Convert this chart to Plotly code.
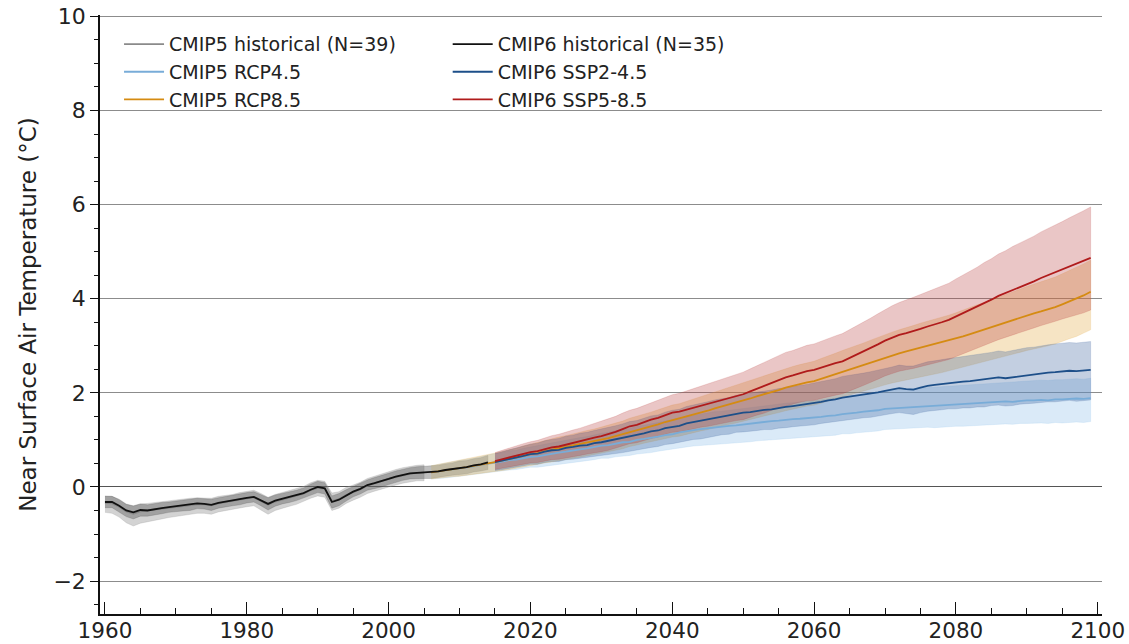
import plotly.graph_objects as go

# ---------------- data ----------------
hist6_years = list(range(1960, 2015))
hist6_mean = [-0.32, -0.32, -0.40, -0.50, -0.54, -0.49, -0.50, -0.47, -0.45, -0.43,
              -0.41, -0.40, -0.38, -0.35, -0.36, -0.38, -0.34, -0.31, -0.29, -0.26,
              -0.23, -0.21, -0.28, -0.36, -0.29, -0.25, -0.22, -0.18, -0.13, -0.06,
              0.00, -0.03, -0.32, -0.27, -0.18, -0.10, -0.04, 0.04, 0.08, 0.12,
              0.17, 0.22, 0.26, 0.29, 0.30, 0.31, 0.31, 0.33, 0.36, 0.38,
              0.41, 0.42, 0.46, 0.48, 0.52]
hist6_spread = [0.12, 0.12, 0.13, 0.13, 0.14, 0.13, 0.12, 0.12, 0.12, 0.11,
                0.11, 0.11, 0.12, 0.11, 0.11, 0.12, 0.11, 0.11, 0.11, 0.12,
                0.11, 0.11, 0.12, 0.13, 0.12, 0.11, 0.11, 0.11, 0.11, 0.12,
                0.12, 0.12, 0.13, 0.13, 0.12, 0.11, 0.11, 0.11, 0.12, 0.12,
                0.12, 0.12, 0.12, 0.12, 0.13, 0.13, 0.13, 0.13, 0.13, 0.13,
                0.14, 0.14, 0.14, 0.14, 0.15]

hist5_years = list(range(1960, 2006))
hist5_mean = [-0.34, -0.35, -0.42, -0.52, -0.57, -0.52, -0.50, -0.48, -0.46, -0.44,
              -0.42, -0.41, -0.39, -0.37, -0.37, -0.39, -0.35, -0.32, -0.30, -0.27,
              -0.24, -0.22, -0.30, -0.38, -0.31, -0.27, -0.23, -0.19, -0.14, -0.07,
              -0.02, -0.04, -0.30, -0.26, -0.17, -0.11, -0.05, 0.03, 0.08, 0.12,
              0.17, 0.21, 0.25, 0.28, 0.30, 0.30]
hist5_up = [0.15, 0.15, 0.16, 0.16, 0.16, 0.16, 0.15, 0.15, 0.15, 0.15,
            0.15, 0.15, 0.15, 0.14, 0.14, 0.15, 0.15, 0.14, 0.14, 0.15,
            0.15, 0.15, 0.16, 0.16, 0.15, 0.15, 0.15, 0.15, 0.15, 0.16,
            0.16, 0.16, 0.17, 0.16, 0.16, 0.15, 0.15, 0.15, 0.15, 0.16,
            0.16, 0.16, 0.16, 0.16, 0.16, 0.17]
hist5_dn = [0.20, 0.21, 0.22, 0.24, 0.26, 0.25, 0.24, 0.23, 0.22, 0.21,
            0.20, 0.20, 0.19, 0.19, 0.19, 0.19, 0.18, 0.18, 0.18, 0.18,
            0.18, 0.18, 0.19, 0.20, 0.19, 0.18, 0.18, 0.18, 0.17, 0.17,
            0.17, 0.18, 0.20, 0.19, 0.18, 0.17, 0.17, 0.17, 0.17, 0.17,
            0.17, 0.17, 0.17, 0.17, 0.17, 0.17]

rcp_years = list(range(2006, 2100))
rcp45_mean = [0.31, 0.33, 0.35, 0.37, 0.40, 0.42, 0.44, 0.47, 0.50, 0.52,
              0.54, 0.57, 0.58, 0.61, 0.64, 0.65, 0.68, 0.71, 0.73, 0.75,
              0.78, 0.80, 0.82, 0.85, 0.88, 0.89, 0.92, 0.95, 0.96, 1.00,
              1.02, 1.04, 1.07, 1.10, 1.12, 1.16, 1.19, 1.21, 1.23, 1.25,
              1.27, 1.28, 1.30, 1.31, 1.33, 1.34, 1.36, 1.38, 1.40, 1.41,
              1.43, 1.44, 1.45, 1.46, 1.47, 1.49, 1.51, 1.52, 1.55, 1.56,
              1.58, 1.60, 1.61, 1.63, 1.66, 1.67, 1.68, 1.69, 1.70, 1.71,
              1.72, 1.72, 1.73, 1.74, 1.75, 1.76, 1.77, 1.78, 1.79, 1.80,
              1.81, 1.82, 1.81, 1.83, 1.84, 1.84, 1.85, 1.84, 1.86, 1.86,
              1.87, 1.88, 1.87, 1.89]
rcp45_up = [0.14, 0.15, 0.15, 0.16, 0.16, 0.17, 0.17, 0.18, 0.18, 0.19,
            0.19, 0.20, 0.20, 0.21, 0.21, 0.22, 0.22, 0.23, 0.23, 0.24,
            0.24, 0.25, 0.25, 0.26, 0.26, 0.27, 0.27, 0.28, 0.28, 0.29,
            0.29, 0.30, 0.30, 0.30, 0.31, 0.31, 0.31, 0.32, 0.32, 0.32,
            0.33, 0.33, 0.33, 0.33, 0.34, 0.34, 0.34, 0.34, 0.35, 0.35,
            0.35, 0.35, 0.36, 0.36, 0.36, 0.36, 0.37, 0.37, 0.37, 0.37,
            0.38, 0.38, 0.38, 0.38, 0.38, 0.39, 0.39, 0.39, 0.39, 0.39,
            0.40, 0.40, 0.40, 0.40, 0.40, 0.40, 0.41, 0.41, 0.41, 0.41,
            0.41, 0.41, 0.42, 0.42, 0.42, 0.42, 0.42, 0.42, 0.42, 0.42,
            0.42, 0.42, 0.42, 0.42]
rcp45_dn = [0.14, 0.15, 0.16, 0.16, 0.17, 0.18, 0.18, 0.19, 0.19, 0.20,
            0.20, 0.21, 0.21, 0.22, 0.22, 0.23, 0.23, 0.24, 0.24, 0.25,
            0.25, 0.26, 0.26, 0.27, 0.27, 0.28, 0.28, 0.29, 0.29, 0.30,
            0.30, 0.31, 0.31, 0.32, 0.32, 0.33, 0.34, 0.34, 0.35, 0.35,
            0.36, 0.36, 0.37, 0.37, 0.38, 0.38, 0.38, 0.39, 0.39, 0.39,
            0.40, 0.40, 0.40, 0.41, 0.41, 0.41, 0.42, 0.42, 0.42, 0.43,
            0.43, 0.43, 0.43, 0.44, 0.44, 0.44, 0.44, 0.45, 0.45, 0.45,
            0.45, 0.46, 0.46, 0.46, 0.46, 0.47, 0.47, 0.47, 0.47, 0.48,
            0.48, 0.48, 0.48, 0.48, 0.49, 0.49, 0.49, 0.49, 0.49, 0.50,
            0.50, 0.50, 0.50, 0.50]

rcp85_mean = [0.31, 0.33, 0.36, 0.38, 0.40, 0.42, 0.45, 0.47, 0.50, 0.53,
              0.56, 0.59, 0.62, 0.66, 0.70, 0.72, 0.76, 0.79, 0.82, 0.85,
              0.88, 0.91, 0.94, 0.97, 1.00, 1.04, 1.08, 1.12, 1.17, 1.21,
              1.25, 1.29, 1.33, 1.38, 1.42, 1.45, 1.49, 1.53, 1.58, 1.62,
              1.67, 1.71, 1.75, 1.79, 1.84, 1.88, 1.93, 1.97, 2.02, 2.06,
              2.11, 2.15, 2.19, 2.22, 2.25, 2.30, 2.35, 2.40, 2.45, 2.50,
              2.55, 2.60, 2.65, 2.70, 2.75, 2.80, 2.84, 2.88, 2.92, 2.96,
              3.00, 3.03, 3.07, 3.11, 3.15, 3.20, 3.25, 3.30, 3.34, 3.39,
              3.44, 3.49, 3.54, 3.59, 3.64, 3.69, 3.73, 3.77, 3.82, 3.88,
              3.94, 4.00, 4.07, 4.15]
rcp85_up = [0.14, 0.15, 0.15, 0.16, 0.16, 0.17, 0.17, 0.18, 0.18, 0.19,
            0.19, 0.20, 0.20, 0.21, 0.21, 0.22, 0.22, 0.23, 0.24, 0.24,
            0.25, 0.25, 0.26, 0.26, 0.27, 0.27, 0.28, 0.28, 0.29, 0.29,
            0.30, 0.30, 0.31, 0.31, 0.32, 0.32, 0.33, 0.34, 0.34, 0.35,
            0.35, 0.36, 0.36, 0.37, 0.37, 0.38, 0.38, 0.39, 0.39, 0.40,
            0.40, 0.41, 0.41, 0.42, 0.42, 0.43, 0.43, 0.44, 0.45, 0.45,
            0.46, 0.46, 0.47, 0.48, 0.48, 0.49, 0.50, 0.50, 0.51, 0.52,
            0.52, 0.53, 0.54, 0.54, 0.55, 0.56, 0.56, 0.57, 0.58, 0.58,
            0.59, 0.60, 0.60, 0.61, 0.62, 0.62, 0.63, 0.64, 0.64, 0.65,
            0.66, 0.66, 0.67, 0.67]
rcp85_dn = [0.14, 0.15, 0.16, 0.16, 0.17, 0.18, 0.18, 0.19, 0.20, 0.20,
            0.21, 0.22, 0.22, 0.23, 0.24, 0.24, 0.25, 0.26, 0.26, 0.27,
            0.27, 0.28, 0.28, 0.29, 0.29, 0.30, 0.30, 0.31, 0.31, 0.32,
            0.32, 0.33, 0.34, 0.35, 0.36, 0.37, 0.37, 0.38, 0.39, 0.40,
            0.41, 0.42, 0.42, 0.43, 0.44, 0.45, 0.46, 0.46, 0.47, 0.48,
            0.49, 0.49, 0.50, 0.50, 0.51, 0.52, 0.52, 0.53, 0.54, 0.55,
            0.55, 0.56, 0.57, 0.58, 0.58, 0.59, 0.60, 0.61, 0.61, 0.62,
            0.63, 0.63, 0.64, 0.65, 0.65, 0.66, 0.67, 0.68, 0.68, 0.69,
            0.70, 0.71, 0.72, 0.73, 0.74, 0.75, 0.76, 0.77, 0.78, 0.79,
            0.79, 0.80, 0.80, 0.81]

ssp_years = list(range(2015, 2100))
ssp245_mean = [0.53, 0.56, 0.60, 0.62, 0.66, 0.70, 0.71, 0.75, 0.78, 0.79,
               0.83, 0.85, 0.88, 0.89, 0.93, 0.95, 0.98, 1.01, 1.04, 1.08,
               1.10, 1.14, 1.18, 1.20, 1.25, 1.28, 1.30, 1.35, 1.38, 1.40,
               1.44, 1.47, 1.50, 1.52, 1.56, 1.58, 1.59, 1.62, 1.64, 1.65,
               1.68, 1.70, 1.72, 1.74, 1.76, 1.78, 1.81, 1.84, 1.86, 1.90,
               1.92, 1.94, 1.96, 1.98, 2.01, 2.04, 2.07, 2.10, 2.08, 2.07,
               2.11, 2.15, 2.17, 2.19, 2.21, 2.22, 2.24, 2.25, 2.27, 2.28,
               2.31, 2.33, 2.31, 2.33, 2.36, 2.38, 2.39, 2.41, 2.43, 2.44,
               2.45, 2.47, 2.46, 2.48, 2.49]
ssp245_up = [0.18, 0.19, 0.19, 0.20, 0.21, 0.21, 0.22, 0.23, 0.23, 0.24,
             0.25, 0.25, 0.26, 0.27, 0.27, 0.28, 0.29, 0.29, 0.30, 0.31,
             0.31, 0.32, 0.33, 0.33, 0.34, 0.35, 0.35, 0.36, 0.36, 0.37,
             0.37, 0.38, 0.38, 0.38, 0.39, 0.39, 0.40, 0.40, 0.40, 0.41,
             0.41, 0.41, 0.42, 0.42, 0.42, 0.43, 0.43, 0.44, 0.44, 0.45,
             0.45, 0.46, 0.46, 0.47, 0.47, 0.48, 0.48, 0.49, 0.49, 0.50,
             0.50, 0.51, 0.51, 0.52, 0.52, 0.53, 0.53, 0.54, 0.54, 0.55,
             0.55, 0.56, 0.56, 0.57, 0.57, 0.58, 0.58, 0.59, 0.59, 0.60,
             0.60, 0.60, 0.60, 0.60, 0.60]
ssp245_dn = [0.18, 0.19, 0.20, 0.20, 0.21, 0.22, 0.23, 0.23, 0.24, 0.25,
             0.25, 0.26, 0.27, 0.27, 0.28, 0.29, 0.29, 0.30, 0.31, 0.32,
             0.32, 0.33, 0.34, 0.34, 0.35, 0.36, 0.36, 0.37, 0.37, 0.38,
             0.38, 0.39, 0.39, 0.40, 0.40, 0.41, 0.41, 0.42, 0.42, 0.43,
             0.43, 0.44, 0.44, 0.45, 0.45, 0.46, 0.46, 0.47, 0.47, 0.48,
             0.48, 0.49, 0.49, 0.50, 0.50, 0.51, 0.51, 0.52, 0.52, 0.53,
             0.53, 0.54, 0.54, 0.55, 0.55, 0.56, 0.56, 0.57, 0.57, 0.58,
             0.58, 0.59, 0.59, 0.60, 0.60, 0.61, 0.61, 0.62, 0.62, 0.63,
             0.63, 0.63, 0.64, 0.64, 0.64]

ssp585_mean = [0.55, 0.59, 0.62, 0.66, 0.70, 0.74, 0.76, 0.80, 0.84, 0.86,
               0.90, 0.93, 0.97, 1.01, 1.05, 1.08, 1.12, 1.17, 1.23, 1.29,
               1.32, 1.38, 1.43, 1.47, 1.53, 1.58, 1.60, 1.64, 1.68, 1.73,
               1.77, 1.80, 1.85, 1.89, 1.93, 1.97, 2.03, 2.09, 2.14, 2.21,
               2.27, 2.33, 2.37, 2.42, 2.46, 2.49, 2.54, 2.59, 2.63, 2.67,
               2.74, 2.81, 2.88, 2.95, 3.03, 3.11, 3.17, 3.23, 3.27, 3.31,
               3.36, 3.41, 3.45, 3.50, 3.55, 3.62, 3.69, 3.76, 3.83, 3.91,
               3.98, 4.06, 4.12, 4.19, 4.25, 4.31, 4.37, 4.44, 4.50, 4.56,
               4.62, 4.68, 4.74, 4.80, 4.87]
ssp585_up = [0.18, 0.19, 0.20, 0.21, 0.22, 0.22, 0.23, 0.24, 0.25, 0.26,
             0.27, 0.28, 0.28, 0.29, 0.30, 0.31, 0.32, 0.33, 0.34, 0.34,
             0.35, 0.35, 0.36, 0.37, 0.37, 0.38, 0.39, 0.40, 0.41, 0.42,
             0.43, 0.44, 0.45, 0.46, 0.47, 0.47, 0.48, 0.49, 0.50, 0.51,
             0.52, 0.53, 0.53, 0.54, 0.55, 0.55, 0.56, 0.57, 0.58, 0.59,
             0.60, 0.61, 0.62, 0.64, 0.65, 0.66, 0.68, 0.69, 0.70, 0.72,
             0.73, 0.74, 0.76, 0.77, 0.78, 0.80, 0.81, 0.83, 0.84, 0.86,
             0.87, 0.89, 0.90, 0.92, 0.93, 0.95, 0.96, 0.98, 0.99, 1.01,
             1.02, 1.04, 1.05, 1.07, 1.08]
ssp585_dn = [0.18, 0.19, 0.20, 0.21, 0.22, 0.23, 0.24, 0.25, 0.26, 0.27,
             0.28, 0.29, 0.30, 0.31, 0.32, 0.33, 0.34, 0.35, 0.36, 0.37,
             0.38, 0.39, 0.40, 0.41, 0.41, 0.42, 0.43, 0.44, 0.45, 0.46,
             0.48, 0.49, 0.50, 0.51, 0.52, 0.54, 0.55, 0.56, 0.57, 0.58,
             0.59, 0.60, 0.61, 0.62, 0.63, 0.65, 0.66, 0.67, 0.68, 0.69,
             0.70, 0.71, 0.72, 0.73, 0.74, 0.75, 0.76, 0.77, 0.78, 0.79,
             0.80, 0.81, 0.82, 0.83, 0.84, 0.85, 0.86, 0.88, 0.89, 0.90,
             0.91, 0.93, 0.94, 0.95, 0.97, 0.98, 0.99, 1.01, 1.02, 1.04,
             1.05, 1.07, 1.08, 1.10, 1.11]

x_ticks = [1960, 1980, 2000, 2020, 2040, 2060, 2080, 2100]
y_ticks = [-2, 0, 2, 4, 6, 8, 10]

# ---------------- figure ----------------
# name, years, mean, up, dn, line colour, band colour, legend, legend rank
series = {
    "h5": ("CMIP5 historical (N=39)", hist5_years, hist5_mean, hist5_up, hist5_dn,
           "#8a8a8a", "rgba(140,140,140,0.38)", "legend", 1),
    "h6": ("CMIP6 historical (N=35)", hist6_years, hist6_mean, hist6_spread, hist6_spread,
           "#111111", "rgba(70,70,70,0.35)", "legend2", 1),
    "r45": ("CMIP5 RCP4.5", rcp_years, rcp45_mean, rcp45_up, rcp45_dn,
            "#78acd8", "rgba(150,195,235,0.35)", "legend", 2),
    "r85": ("CMIP5 RCP8.5", rcp_years, rcp85_mean, rcp85_up, rcp85_dn,
            "#d58b12", "rgba(228,172,72,0.32)", "legend", 3),
    "s245": ("CMIP6 SSP2-4.5", ssp_years, ssp245_mean, ssp245_up, ssp245_dn,
             "#1d4f89", "rgba(55,95,155,0.30)", "legend2", 2),
    "s585": ("CMIP6 SSP5-8.5", ssp_years, ssp585_mean, ssp585_up, ssp585_dn,
             "#b01b1b", "rgba(180,50,50,0.28)", "legend2", 3),
}
for s in series.values():
    assert len(s[1]) == len(s[2]) == len(s[3]) == len(s[4]), s[0]

band_order = ["h5", "h6", "r45", "r85", "s245", "s585"]
line_order = ["h5", "r45", "r85", "s245", "s585", "h6"]

fig = go.Figure()
for k in band_order:
    name, yrs, m, up, dn, lc, bc, lg, rk = series[k]
    upper = [a + b for a, b in zip(m, up)]
    lower = [a - b for a, b in zip(m, dn)]
    fig.add_trace(go.Scatter(
        x=list(yrs) + list(yrs)[::-1], y=upper + lower[::-1],
        fill="toself", fillcolor=bc, line=dict(width=0.6, color=bc),
        mode="lines", showlegend=False, hoverinfo="skip"))

for k in line_order:
    name, yrs, m, up, dn, lc, bc, lg, rk = series[k]
    fig.add_trace(go.Scatter(
        x=yrs, y=m, mode="lines", name=name, legend=lg, legendrank=rk,
        line=dict(color=lc, width=1.8)))

font_family = "DejaVu Sans"
leg_common = dict(yanchor="top", xanchor="left", bgcolor="rgba(0,0,0,0)",
                  font=dict(size=19, family=font_family, color="#222222"),
                  itemwidth=40, tracegroupgap=0, traceorder="normal")
fig.update_layout(
    width=1129, height=644,
    margin=dict(l=100, r=27, t=15, b=30),
    paper_bgcolor="white", plot_bgcolor="white",
    font=dict(family=font_family, color="#222222"),
    legend=dict(x=0.019, y=0.983, **leg_common),
    legend2=dict(x=0.347, y=0.983, **leg_common),
    xaxis=dict(range=[1959.3, 2100.6], tickvals=x_ticks, ticks="inside",
               ticklen=12, tickwidth=1.3, tickcolor="#111", showline=True,
               linecolor="#111", linewidth=1.5, showgrid=False, zeroline=False,
               automargin=False, ticklabeloverflow="allow",
               ticklabelstandoff=-4,
               tickfont=dict(size=21.5, family=font_family),
               minor=dict(dtick=5, tick0=1960, ticks="inside", ticklen=6,
                          tickwidth=1.1, tickcolor="#111", showgrid=False)),
    yaxis=dict(range=[-2.7, 10.03], tickvals=y_ticks, ticks="outside",
               ticklen=8, tickwidth=1.3, tickcolor="#111", showline=True,
               linecolor="#111", linewidth=1.5, showgrid=True,
               gridcolor="#8c8c8c", gridwidth=1, zeroline=True,
               zerolinecolor="#555555", zerolinewidth=1.2,
               automargin=False, ticklabeloverflow="allow",
               tickfont=dict(size=22, family=font_family),
               title=dict(text="Near Surface Air Temperature (°C)",
                          font=dict(size=23, family=font_family), standoff=10),
               minor=dict(dtick=0.5, tick0=0, ticks="outside", ticklen=4,
                          tickwidth=1.1, tickcolor="#111", showgrid=False)),
)

fig.write_html("out.html",
               config={"displayModeBar": False},
               post_script="document.body.style.margin='0';"
                           "document.body.style.overflow='hidden';")
